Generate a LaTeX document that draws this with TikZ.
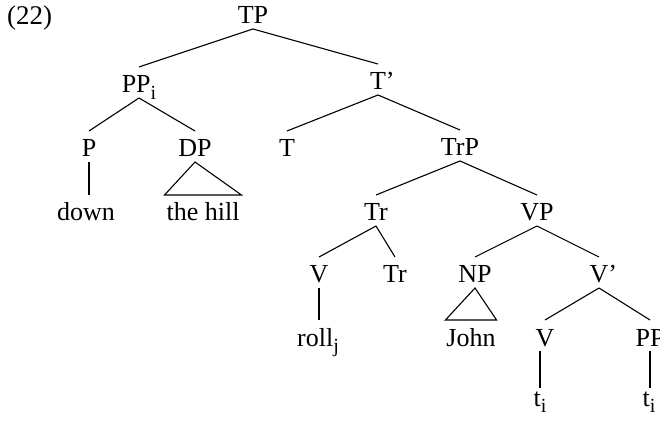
\documentclass[tikz,border=0pt]{standalone}
\usepackage{fontspec}
\setmainfont{Liberation Serif}
% lowered index letter
\newcommand{\idx}[1]{\raisebox{-6.5pt}{\fontsize{20}{22}\selectfont #1}}
\begin{document}
\begin{tikzpicture}[x=1pt,y=1pt,
  lab/.style={font=\fontsize{26}{30}\selectfont, inner sep=0pt, outer sep=0pt,
              text height=26pt, text depth=5pt, anchor=base},
  trace/.style={lab, text height=18pt},
  branch/.style={line width=1.1pt},
  tri/.style={line width=1.1pt, line join=miter}]
\useasboundingbox (0,0) rectangle (660,420);

% example number
\node[font=\fontsize{27}{30}\selectfont, inner sep=0pt, anchor=base west] (ex) at (7,395) {(22)};

% tree labels (x, 420 - baseline)
\node[lab] (TP)   at (253,396) {TP};
\node[lab] (PPi)  at (139,327) {PP\idx{i}};
\node[lab] (Tbar) at (378,330) {T\rlap{’}};
\node[lab] (P)    at (89,263)  {P};
\node[lab] (DP)   at (195,263) {DP};
\node[lab] (T)    at (287,263) {T};
\node[lab] (TrP)  at (460,264) {TrP};
\node[lab] (down) at (86,199)  {down};
\node[lab, inner xsep=2pt] (hill) at (203,199) {the hill};
\node[lab] (Tr)   at (376,199) {Tr};
\node[lab] (VP)   at (537,199) {VP};
\node[lab] (V)    at (319,137) {V};
\node[lab] (Tr2)  at (395,137) {Tr};
\node[lab] (NP)   at (475,137) {NP};
\node[lab] (Vbar) at (599,137) {V\rlap{’}};
\node[lab] (roll) at (318,74)  {roll\idx{j}};
\node[lab, inner xsep=1pt] (John) at (471,74) {John};
\node[lab] (V2)   at (545,74)  {V};
\node[lab] (PP2)  at (650,74)  {PP};
\node[trace] (t1) at (540,14)  {t\idx{i}};
\node[trace] (t2) at (649,14)  {t\idx{i}};

% branches
\draw[branch] (TP.south) -- (PPi.north);
\draw[branch] (TP.south) -- (Tbar.north);
\draw[branch] (PPi.south) -- (P.north);
\draw[branch] (PPi.south) -- (DP.north);
\draw[branch] (Tbar.south) -- (T.north);
\draw[branch] (Tbar.south) -- (TrP.north);
\draw[branch] (P.south) -- (P.south |- down.north);
\draw[tri] (DP.south) -- (hill.north west) -- (hill.north east) -- cycle;
\draw[branch] (TrP.south) -- (Tr.north);
\draw[branch] (TrP.south) -- (VP.north);
\draw[branch] (Tr.south) -- (V.north);
\draw[branch] (Tr.south) -- (Tr2.north);
\draw[branch] (VP.south) -- (NP.north);
\draw[branch] (VP.south) -- (Vbar.north);
\draw[branch] (V.south) -- (V.south |- roll.north);
\draw[tri] (NP.south) -- (John.north west) -- (John.north east) -- cycle;
\draw[branch] (Vbar.south) -- (V2.north);
\draw[branch] (Vbar.south) -- (PP2.north);
\draw[branch] (t1.north |- V2.south) -- (t1.north);
\draw[branch] (PP2.south) -- (PP2.south |- t2.north);
\end{tikzpicture}
\end{document}
